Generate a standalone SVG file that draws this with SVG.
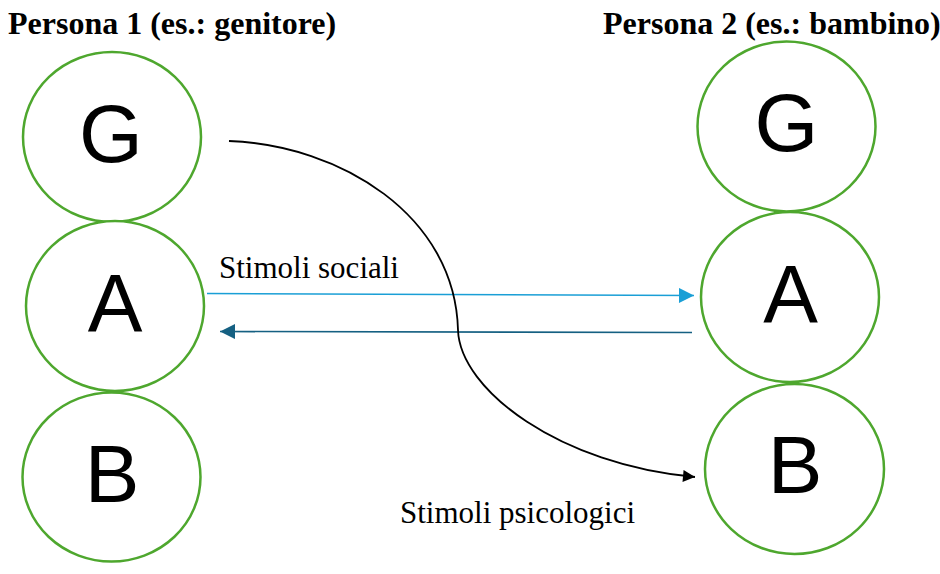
<svg xmlns="http://www.w3.org/2000/svg" width="940" height="574" viewBox="0 0 940 574">
  <style>
    .ring { fill: #ffffff; stroke: #4ea72e; stroke-width: 2.5; }
    .letter { font-family: "Liberation Sans", Arial, sans-serif; font-size: 82px; fill: #000000; text-anchor: middle; }
    .title { font-family: "Liberation Serif", "Times New Roman", serif; font-size: 32px; font-weight: bold; fill: #000000; }
    .label { font-family: "Liberation Serif", "Times New Roman", serif; font-size: 31px; fill: #000000; }
    .social-out { fill: none; stroke: #1a9fd6; stroke-width: 1.6; }
    .social-back { fill: none; stroke: #156082; stroke-width: 1.6; }
    .psych { fill: none; stroke: #000000; stroke-width: 1.8; }
  </style>
  <defs>
    <marker id="head-light" viewBox="0 0 10 10" refX="10" refY="5" markerUnits="userSpaceOnUse" markerWidth="16" markerHeight="15" orient="auto">
      <path d="M0,0 L10,5 L0,10 Z" fill="#1a9fd6"/>
    </marker>
    <marker id="head-dark" viewBox="0 0 10 10" refX="10" refY="5" markerUnits="userSpaceOnUse" markerWidth="16" markerHeight="15" orient="auto">
      <path d="M0,0 L10,5 L0,10 Z" fill="#156082"/>
    </marker>
    <marker id="head-black" viewBox="0 0 10 10" refX="10" refY="5" markerUnits="userSpaceOnUse" markerWidth="15" markerHeight="12" orient="auto">
      <path d="M0,0 L10,5 L0,10 Z" fill="#000000"/>
    </marker>
  </defs>

  <rect width="940" height="574" fill="#ffffff"/>

  <!-- column headings -->
  <text class="title" x="8" y="34">Persona 1 (es.: genitore)</text>
  <text class="title" x="603" y="34">Persona 2 (es.: bambino)</text>

  <!-- person 1 -->
  <g id="p1-G">
    <ellipse class="ring" cx="112" cy="137" rx="89" ry="85"/>
    <text class="letter" x="111" y="162">G</text>
  </g>
  <g id="p1-A">
    <ellipse class="ring" cx="115" cy="306" rx="89" ry="85"/>
    <text class="letter" x="115" y="331">A</text>
  </g>
  <g id="p1-B">
    <ellipse class="ring" cx="111.5" cy="477" rx="89" ry="84.5"/>
    <text class="letter" x="112" y="502">B</text>
  </g>

  <!-- person 2 -->
  <g id="p2-G">
    <ellipse class="ring" cx="786.5" cy="126.5" rx="89" ry="85"/>
    <text class="letter" x="786.5" y="151">G</text>
  </g>
  <g id="p2-A">
    <ellipse class="ring" cx="790" cy="297" rx="89" ry="85"/>
    <text class="letter" x="790.5" y="321.5">A</text>
  </g>
  <g id="p2-B">
    <ellipse class="ring" cx="794.5" cy="469" rx="89.5" ry="85"/>
    <text class="letter" x="795" y="493">B</text>
  </g>

  <!-- connectors -->
  <g id="connectors">
    <path class="social-out" d="M207,293.5 L694,295.5" marker-end="url(#head-light)"/>
    <path class="social-back" d="M692,332.5 L220,331.5" marker-end="url(#head-dark)"/>
    <path class="psych" d="M229,141 C340,145 455,215 458,330 C460,390 560,465 695,477" marker-end="url(#head-black)"/>
  </g>

  <!-- connector labels -->
  <text class="label" x="219" y="278">Stimoli sociali</text>
  <text class="label" x="400" y="523">Stimoli psicologici</text>
</svg>
